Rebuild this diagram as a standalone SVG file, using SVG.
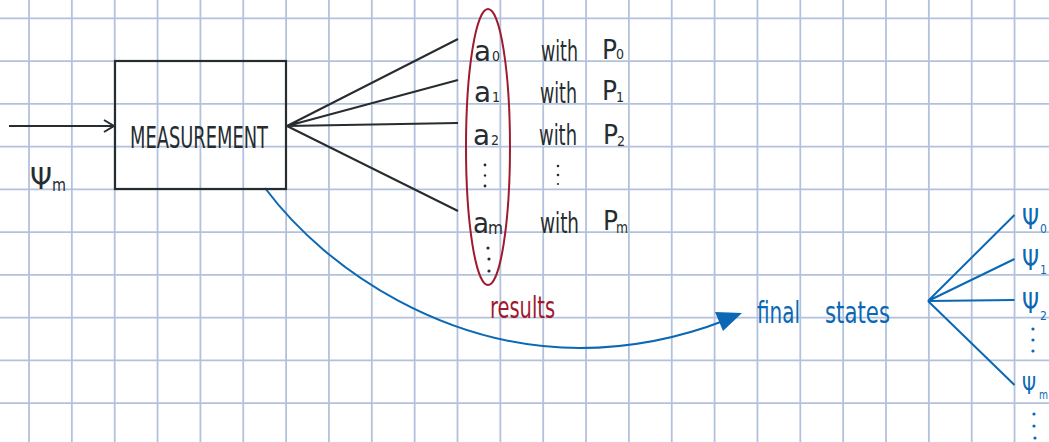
<svg xmlns="http://www.w3.org/2000/svg" width="1049" height="442" viewBox="0 0 1049 442">
<defs>
<style>
.grid{stroke:#b3c2dc;stroke-width:1.8;fill:none}
.ink{fill:#262c30;font-family:'DejaVu Sans Condensed','DejaVu Sans',sans-serif;font-stretch:condensed}
.red{fill:#9e1a2e;font-family:'DejaVu Sans Condensed','DejaVu Sans',sans-serif;font-stretch:condensed}
.blue{fill:#0a68b4;font-family:'DejaVu Sans Condensed','DejaVu Sans',sans-serif;font-stretch:condensed}
.dk{stroke:#262c30;stroke-width:2;fill:none}
.bl{stroke:#0a68b4;stroke-width:2;fill:none}
</style>
</defs>
<rect width="1049" height="442" fill="#ffffff"/>
<g id="grid" class="grid">
<path d="M29,0V442M71.85,0V442M114.7,0V442M157.55,0V442M200.4,0V442M243.25,0V442M286.1,0V442M328.95,0V442M371.8,0V442M414.65,0V442M457.5,0V442M500.35,0V442M543.2,0V442M586.05,0V442M628.9,0V442M671.75,0V442M714.6,0V442M757.45,0V442M800.3,0V442M843.15,0V442M886,0V442M928.85,0V442M971.7,0V442M1014.55,0V442"/>
<path d="M0,18.3H1049M0,61.05H1049M0,103.8H1049M0,146.55H1049M0,189.3H1049M0,232.05H1049M0,274.8H1049M0,317.55H1049M0,360.3H1049M0,403.05H1049"/>
</g>
<g id="connectors">
<path class="dk" d="M9,126H114M104,120L114,126L104,132"/>
<path class="dk" d="M287,126L458,39M287,126L458,80M287,126L458,123M287,126L458,211"/>
<path class="bl" d="M265,188C330,275 450,348 580,348C640,348 690,334 726,320"/>
<polygon points="742,313 715,312 723,331" fill="#0a68b4"/>
<path class="bl" d="M928,301L1014.5,215M928,301L1014.5,259M928,301L1014.5,300M928,301L1014.5,385"/>
</g>
<g id="input-state">
<text class="ink" x="30" y="189" font-size="30" textLength="22" lengthAdjust="spacingAndGlyphs">Ψ</text>
<text class="ink" x="52" y="191" font-size="18" textLength="14" lengthAdjust="spacingAndGlyphs">m</text>
</g>
<g id="measurement">
<rect x="115" y="61" width="171" height="128" fill="none" stroke="#262c30" stroke-width="2.2"/>
<text class="ink" x="130" y="148" font-size="30" textLength="138" lengthAdjust="spacingAndGlyphs">MEASUREMENT</text>
</g>
<g id="results">
<ellipse cx="488" cy="147" rx="22" ry="138" fill="none" stroke="#9e1a2e" stroke-width="2"/>
<g class="ink">
<text x="474" y="61" font-size="28" textLength="17" lengthAdjust="spacingAndGlyphs">a</text>
<text x="492" y="61" font-size="14">0</text>
<text x="474" y="102" font-size="28" textLength="17" lengthAdjust="spacingAndGlyphs">a</text>
<text x="492" y="102" font-size="14">1</text>
<text x="473" y="145" font-size="28" textLength="17" lengthAdjust="spacingAndGlyphs">a</text>
<text x="491" y="145" font-size="14">2</text>
<text x="473" y="233" font-size="28" textLength="16" lengthAdjust="spacingAndGlyphs">a</text>
<text x="488" y="234" font-size="18" textLength="15" lengthAdjust="spacingAndGlyphs">m</text>
<text x="541" y="61" font-size="28" textLength="37" lengthAdjust="spacingAndGlyphs">with</text>
<text x="540" y="103" font-size="28" textLength="37" lengthAdjust="spacingAndGlyphs">with</text>
<text x="539" y="145" font-size="28" textLength="38" lengthAdjust="spacingAndGlyphs">with</text>
<text x="540" y="233" font-size="28" textLength="39" lengthAdjust="spacingAndGlyphs">with</text>
<text x="602" y="59" font-size="26" textLength="15" lengthAdjust="spacingAndGlyphs">P</text>
<text x="616" y="59" font-size="14">0</text>
<text x="602" y="100" font-size="26" textLength="15" lengthAdjust="spacingAndGlyphs">P</text>
<text x="616" y="102" font-size="14">1</text>
<text x="603" y="144" font-size="26" textLength="15" lengthAdjust="spacingAndGlyphs">P</text>
<text x="617" y="146" font-size="14">2</text>
<text x="603" y="230" font-size="26" textLength="15" lengthAdjust="spacingAndGlyphs">P</text>
<text x="616" y="233" font-size="15" textLength="12" lengthAdjust="spacingAndGlyphs">m</text>
<circle cx="485" cy="165" r="1.4"/><circle cx="485" cy="175.5" r="1.2"/><circle cx="485" cy="186" r="1.4"/>
<circle cx="558" cy="166" r="1.3"/><circle cx="558" cy="175" r="1.3"/><circle cx="558" cy="184" r="1.1"/>
<circle cx="488" cy="248" r="1.6"/><circle cx="489" cy="259" r="1.6"/><circle cx="489" cy="271" r="1.6"/>
</g>
<text class="red" x="490" y="318" font-size="30" textLength="65" lengthAdjust="spacingAndGlyphs">results</text>
</g>
<g id="final-states">
<text class="blue" x="757" y="323" font-size="30" textLength="43" lengthAdjust="spacingAndGlyphs">final</text>
<text class="blue" x="825" y="323" font-size="30" textLength="65" lengthAdjust="spacingAndGlyphs">states</text>
<g class="blue">
<text x="1022" y="229" font-size="28" textLength="17" lengthAdjust="spacingAndGlyphs">Ψ</text>
<text x="1040" y="233" font-size="12">0</text>
<text x="1022" y="270" font-size="28" textLength="17" lengthAdjust="spacingAndGlyphs">Ψ</text>
<text x="1040" y="274" font-size="12">1</text>
<text x="1022" y="313" font-size="28" textLength="17" lengthAdjust="spacingAndGlyphs">Ψ</text>
<text x="1040" y="320" font-size="12">2</text>
<text x="1022" y="394" font-size="24" textLength="14" lengthAdjust="spacingAndGlyphs">Ψ</text>
<text x="1039" y="399" font-size="13" textLength="9" lengthAdjust="spacingAndGlyphs">m</text>
<circle cx="1033" cy="329" r="1.6"/><circle cx="1033" cy="340" r="1.6"/><circle cx="1033" cy="351" r="1.6"/>
<circle cx="1034" cy="414" r="1.6"/><circle cx="1034" cy="426" r="1.6"/><circle cx="1035" cy="438" r="1.6"/>
</g>
</g>
</svg>
